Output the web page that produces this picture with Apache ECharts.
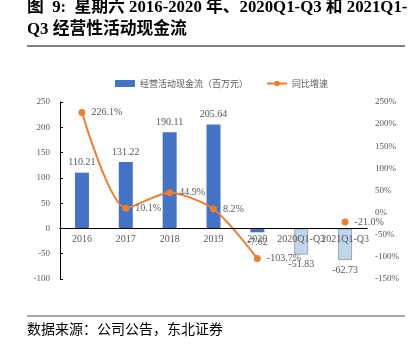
<!DOCTYPE html>
<html><head><meta charset="utf-8">
<script src="https://cdn.jsdelivr.net/npm/echarts@6/dist/echarts.min.js"></script>
<style>html,body{margin:0;padding:0;background:#fff}#c{width:418px;height:348px}</style>
</head><body><div id="c"></div>
<script>
const categories = ['2016','2017','2018','2019','2020','2020Q1-Q3','2021Q1-Q3'];
const cashFlow = [110.21, 131.22, 190.11, 205.64, -7.62, -51.83, -62.73];
const growth = [226.1, 10.1, 44.9, 8.2, -103.7, null, -21.0];
const leftTicks = [-100, 250, 50];
const rightTicks = [-150, 250, 50];

const serif = '"Liberation Serif","Noto Sans CJK SC",serif';
const cjk = '"Noto Sans CJK SC",sans-serif';
const gray = '#595959';
const gridTop = 102, gridBottom = 69, H = 348;
const gridH = H - gridTop - gridBottom;
// distance of value 0 above the grid bottom, derived from the left axis scale
const zeroOffset = gridH * (0 - leftTicks[0]) / (leftTicks[1] - leftTicks[0]);

const chart = echarts.init(document.getElementById('c'), null, {renderer:'canvas'});
const barData = cashFlow.map((v, i) => ({
  value: v,
  itemStyle: i >= 5 ? {color:'#BDD7EE', borderColor:'#A6A6A6', borderWidth:1} : {color:'#4472C4'},
  label: {position: v < 0 ? 'bottom' : 'top'}
}));
chart.setOption({
  animation: false,
  graphic: [
    {type:'text', left:27, top:-1, style:{text:'图  9:  星期六 2016-2020 年、2020Q1-Q3 和 2021Q1-', font:'bold 16.8px '+serif, fill:'#000'}},
    {type:'text', left:27, top:21, style:{text:'Q3 经营性活动现金流', font:'bold 16.8px '+serif, fill:'#000'}},
    {type:'line', shape:{x1:27,y1:46,x2:405,y2:46}, style:{stroke:'#000', lineWidth:1}},
    {type:'line', shape:{x1:27,y1:316,x2:405,y2:316}, style:{stroke:'#555', lineWidth:1}},
    {type:'text', left:27, top:322, style:{text:'数据来源：公司公告，东北证券', font:'14px '+cjk, fill:'#000'}}
  ],
  legend: {
    top: 74, left: 110, itemGap: 18,
    textStyle: {fontFamily: cjk, fontSize: 9, color: gray},
    data: [
      {name:'经营活动现金流（百万元）', icon:'rect', itemStyle:{color:'#4472C4'}},
      {name:'同比增速'}
    ],
    itemWidth: 20, itemHeight: 7
  },
  grid: {left: 60, right: 51, top: gridTop, bottom: gridBottom},
  xAxis: {
    type:'category', data: categories, position:'bottom', offset: -zeroOffset, z: 10,
    axisLine:{onZero:false, lineStyle:{color:'#000', width:1.2}},
    axisTick:{show:false},
    axisLabel:{color:gray, fontFamily:serif, fontSize:10, margin:6, interval:0}
  },
  yAxis: [
    {type:'value', min:leftTicks[0], max:leftTicks[1], interval:leftTicks[2],
     axisLine:{show:true, lineStyle:{color:'#000'}}, axisTick:{show:true, inside:true, length:3, lineStyle:{color:'#000'}},
     splitLine:{show:false},
     axisLabel:{color:gray, fontFamily:serif, fontSize:9, margin:10}},
    {type:'value', min:rightTicks[0], max:rightTicks[1], interval:rightTicks[2],
     axisLine:{show:false}, axisTick:{show:false}, splitLine:{show:false},
     axisLabel:{color:gray, fontFamily:serif, fontSize:9, margin:8, formatter:'{value}%'}}
  ],
  series: [
    {name:'经营活动现金流（百万元）', type:'bar', barWidth:14, data: barData, yAxisIndex:0,
     label:{show:true, color:gray, fontFamily:serif, fontSize:10, distance:5}},
    {name:'同比增速', type:'line', yAxisIndex:1, data: growth, smooth:0.25, connectNulls:false,
     symbol:'circle', symbolSize:7, showSymbol:true, z: 5,
     itemStyle:{color:'#ED7D31'}, lineStyle:{color:'#ED7D31', width:2},
     label:{show:true, position:'right', color:gray, fontFamily:serif, fontSize:10, distance:6,
            formatter: p => p.value.toFixed(1) + '%'}}
  ]
});
</script></body></html>
